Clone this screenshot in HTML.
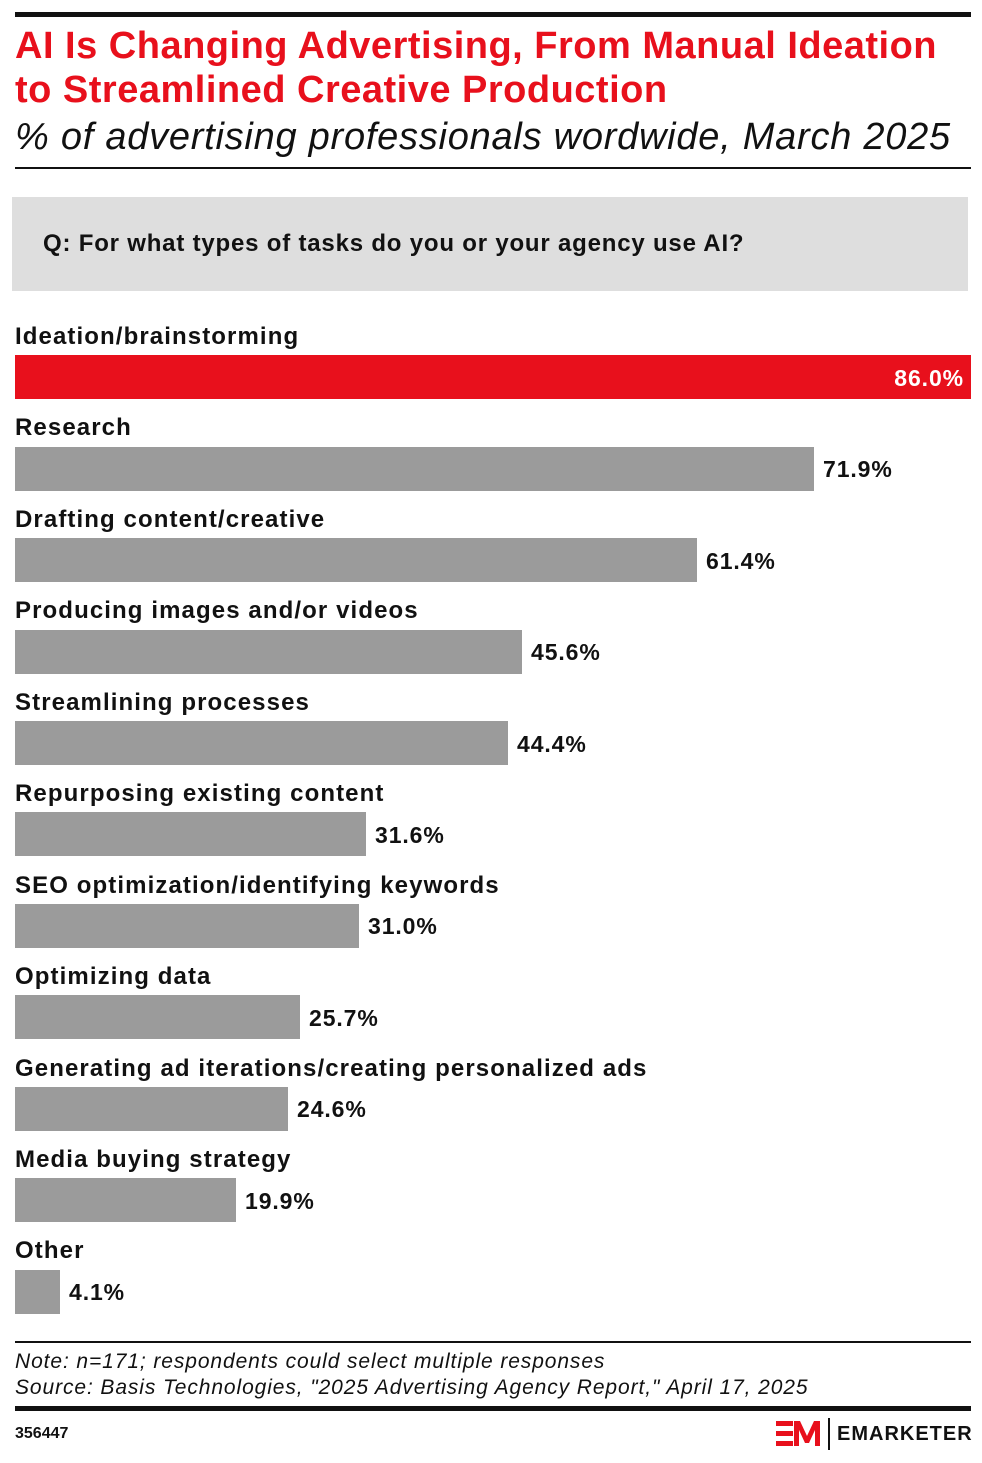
<!DOCTYPE html><html><head><style>
body{margin:0;width:982px;height:1463px;background:#fff;font-family:"Liberation Sans",sans-serif;position:relative;overflow:hidden}
.a{position:absolute;white-space:nowrap}
.t{color:#e8101c;font-weight:bold;font-size:38px;left:15px;letter-spacing:0.5px}
.lab{font-weight:bold;font-size:24px;color:#111;left:15px;letter-spacing:1.1px}
.bar{position:absolute;left:15px;height:44px;background:#9b9b9b}
.v{font-weight:bold;font-size:23px;color:#111;letter-spacing:0.9px}
.n{left:15px;font-size:21px;font-style:italic;color:#111;letter-spacing:0.9px}
</style></head><body>
<div class="a" style="left:15px;top:12px;width:956px;height:5px;background:#111"></div>
<div class="a t" style="top:25px">AI Is Changing Advertising, From Manual Ideation</div>
<div class="a t" style="top:69px">to Streamlined Creative Production</div>
<div class="a" style="left:15px;top:116px;font-size:38px;font-style:italic;color:#111;letter-spacing:0.75px">% of advertising professionals wordwide, March 2025</div>
<div class="a" style="left:15px;top:167px;width:956px;height:2px;background:#111"></div>
<div class="a" style="left:12px;top:197px;width:956px;height:94px;background:#dedede"></div>
<div class="a" style="left:43px;top:230px;font-size:24px;font-weight:bold;color:#111;letter-spacing:0.8px">Q: For what types of tasks do you or your agency use AI?</div>

<div class="a lab" style="top:323px">Ideation/brainstorming</div>
<div class="bar" style="top:355px;width:956px;background:#e8101c"></div>
<div class="a v" style="top:365px;right:18px;color:#fff">86.0%</div>

<div class="a lab" style="top:414px">Research</div>
<div class="bar" style="top:447px;width:799px"></div>
<div class="a v" style="top:456px;left:823px">71.9%</div>

<div class="a lab" style="top:506px">Drafting content/creative</div>
<div class="bar" style="top:538px;width:682px"></div>
<div class="a v" style="top:548px;left:706px">61.4%</div>

<div class="a lab" style="top:597px">Producing images and/or videos</div>
<div class="bar" style="top:630px;width:507px"></div>
<div class="a v" style="top:639px;left:531px">45.6%</div>

<div class="a lab" style="top:689px">Streamlining processes</div>
<div class="bar" style="top:721px;width:493px"></div>
<div class="a v" style="top:731px;left:517px">44.4%</div>

<div class="a lab" style="top:780px">Repurposing existing content</div>
<div class="bar" style="top:812px;width:351px"></div>
<div class="a v" style="top:822px;left:375px">31.6%</div>

<div class="a lab" style="top:872px">SEO optimization/identifying keywords</div>
<div class="bar" style="top:904px;width:344px"></div>
<div class="a v" style="top:913px;left:368px">31.0%</div>

<div class="a lab" style="top:963px">Optimizing data</div>
<div class="bar" style="top:995px;width:285px"></div>
<div class="a v" style="top:1005px;left:309px">25.7%</div>

<div class="a lab" style="top:1055px">Generating ad iterations/creating personalized ads</div>
<div class="bar" style="top:1087px;width:273px"></div>
<div class="a v" style="top:1096px;left:297px">24.6%</div>

<div class="a lab" style="top:1146px">Media buying strategy</div>
<div class="bar" style="top:1178px;width:221px"></div>
<div class="a v" style="top:1188px;left:245px">19.9%</div>

<div class="a lab" style="top:1237px">Other</div>
<div class="bar" style="top:1270px;width:45px"></div>
<div class="a v" style="top:1279px;left:69px">4.1%</div>

<div class="a" style="left:15px;top:1341px;width:956px;height:2px;background:#111"></div>
<div class="a n" style="top:1350px">Note: n=171; respondents could select multiple responses</div>
<div class="a n" style="top:1376px">Source: Basis Technologies, "2025 Advertising Agency Report," April 17, 2025</div>
<div class="a" style="left:15px;top:1406px;width:956px;height:5px;background:#111"></div>
<div class="a" style="left:15px;top:1425px;font-size:16px;font-weight:bold;color:#111">356447</div>
<svg class="a" style="left:774px;top:1418px" width="50" height="32"><rect x="2" y="3" width="17" height="5" fill="#e8101c"/><rect x="2" y="13" width="17" height="5" fill="#e8101c"/><rect x="2" y="23" width="17" height="5" fill="#e8101c"/><polygon points="20,28 20,3 26,3 33,18 40,3 46,3 46,28 41,28 41,12 35,25 31,25 25,12 25,28" fill="#e8101c"/></svg>
<div class="a" style="left:828px;top:1418px;width:2px;height:32px;background:#111"></div>
<div class="a" style="left:837px;top:1423px;font-size:20px;font-weight:bold;letter-spacing:1px;color:#111">EMARKETER</div>
</body></html>
